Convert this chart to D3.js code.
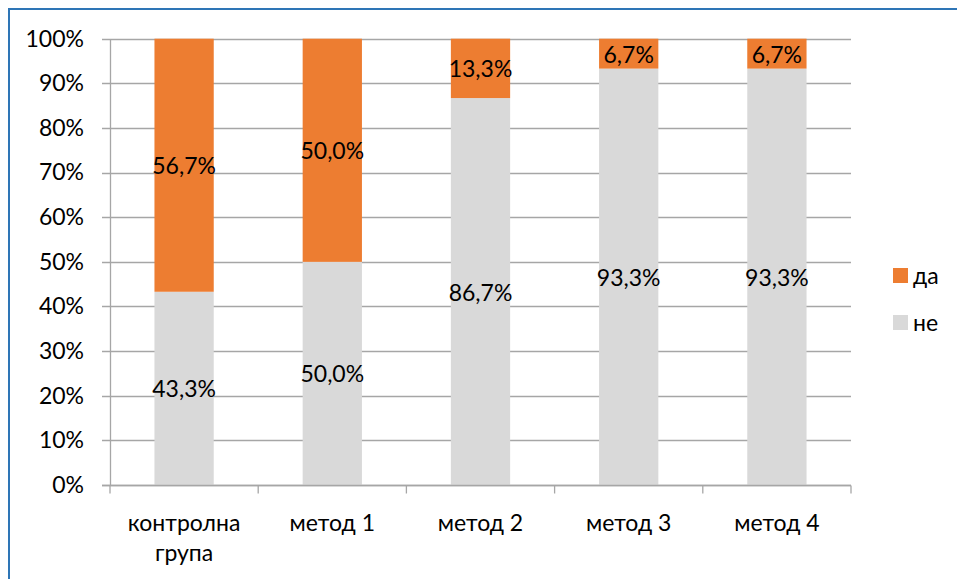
<!DOCTYPE html>
<html>
<head>
<meta charset="utf-8">
<script src="https://cdn.jsdelivr.net/npm/d3@7"></script>
<style>
  html, body { margin: 0; padding: 0; background: #fff; }
  svg { display: block; font-family: Lato, "Liberation Sans", sans-serif; }
</style>
</head>
<body>
<svg id="chart" width="957" height="579"></svg>
<script>
// Categories (x axis), with line breaks for wrapped labels
const categories = ["контролна група", "метод 1", "метод 2", "метод 3", "метод 4"];
const categoryLines = [["контролна", "група"], ["метод 1"], ["метод 2"], ["метод 3"], ["метод 4"]];

// Series shares in percent
const seriesNames = ["не", "да"];
const valuesNe = [43.3, 50.0, 86.7, 93.3, 93.3];
const valuesDa = [56.7, 50.0, 13.3, 6.7, 6.7];

// Y axis ticks
const yTicks = [0, 10, 20, 30, 40, 50, 60, 70, 80, 90, 100];

const colors = { "не": "#d9d9d9", "да": "#ed7d31" };
const FONT = 23;

const svg = d3.select("#chart");
const W = 957, H = 579;

// Chart frame
svg.append("rect")
  .attr("x", 9).attr("y", 9)
  .attr("width", W + 20).attr("height", H + 20)
  .attr("fill", "none")
  .attr("stroke", "#2e75b6")
  .attr("stroke-width", 2);

const plot = { left: 110, right: 851, top: 38.7, bottom: 485 };

const x = d3.scaleBand()
  .domain(categories)
  .range([plot.left, plot.right])
  .paddingInner(0.6)
  .paddingOuter(0.3);

const y = d3.scaleLinear()
  .domain([0, 100])
  .range([plot.bottom, plot.top]);

const fmt = v => v.toFixed(1).replace(".", ",") + "%";

// Gridlines
svg.append("g")
  .selectAll("line")
  .data(yTicks)
  .join("line")
  .attr("x1", plot.left - 8)
  .attr("x2", plot.right)
  .attr("y1", d => Math.round(y(d)) + 0.5)
  .attr("y2", d => Math.round(y(d)) + 0.5)
  .attr("stroke", "#a6a6a6")
  .attr("stroke-width", 1.3);

// Stacked data
const rows = categories.map((c, i) => ({ cat: c, "не": valuesNe[i], "да": valuesDa[i] }));
const stack = d3.stack().keys(seriesNames)(rows);

const layers = svg.append("g")
  .selectAll("g")
  .data(stack)
  .join("g")
  .attr("fill", d => colors[d.key]);

layers.selectAll("rect")
  .data(d => d)
  .join("rect")
  .attr("x", d => x(d.data.cat))
  .attr("width", x.bandwidth())
  .attr("y", d => y(d[1]))
  .attr("height", d => y(d[0]) - y(d[1]));

// Value labels centred in each segment
layers.selectAll("text")
  .data(d => d.map(s => ({ s, key: d.key })))
  .join("text")
  .attr("x", d => x(d.s.data.cat) + x.bandwidth() / 2)
  .attr("y", d => (y(d.s[0]) + y(d.s[1])) / 2)
  .attr("text-anchor", "middle")
  .attr("dominant-baseline", "central")
  .attr("fill", "#000")
  .attr("font-size", FONT)
  .text(d => fmt(d.s.data[d.key]));

// Y axis
const yAxis = svg.append("g")
  .attr("transform", `translate(${plot.left},0)`)
  .call(d3.axisLeft(y).tickValues(yTicks).tickFormat(d => d + "%").tickSize(0).tickPadding(26));
yAxis.select(".domain").attr("stroke", "#a6a6a6").attr("stroke-width", 1.3);
yAxis.selectAll("text").attr("font-size", FONT).attr("fill", "#000").attr("font-family", "Lato, sans-serif");

// X axis baseline and category separators
const xAxis = svg.append("g")
  .attr("transform", `translate(0,${Math.round(plot.bottom) + 0.5})`);
xAxis.append("line")
  .attr("x1", plot.left - 8).attr("x2", plot.right)
  .attr("stroke", "#a6a6a6").attr("stroke-width", 1.3);
const bounds = categories.map(c => x(c) - x.step() * x.paddingOuter())
  .concat([plot.right]);
xAxis.selectAll("line.tick")
  .data(bounds)
  .join("line")
  .attr("class", "tick")
  .attr("x1", d => d).attr("x2", d => d)
  .attr("y1", 0).attr("y2", 8)
  .attr("stroke", "#a6a6a6").attr("stroke-width", 1.3);

// Category labels
const catLabels = svg.append("g")
  .selectAll("text")
  .data(categories)
  .join("text")
  .attr("x", d => x(d) + x.bandwidth() / 2)
  .attr("y", 531)
  .attr("text-anchor", "middle")
  .attr("font-size", FONT)
  .attr("fill", "#000");
catLabels.each(function (d, i) {
  d3.select(this).selectAll("tspan")
    .data(categoryLines[i])
    .join("tspan")
    .attr("x", x(d) + x.bandwidth() / 2)
    .attr("dy", (t, j) => j === 0 ? 0 : 30)
    .text(t => t);
});

// Legend
const legendItems = ["да", "не"];
const legend = svg.append("g")
  .selectAll("g")
  .data(legendItems)
  .join("g")
  .attr("transform", (d, i) => `translate(893,${275 + i * 47})`);
legend.append("rect")
  .attr("x", 0).attr("y", -7)
  .attr("width", 15).attr("height", 15)
  .attr("fill", d => colors[d]);
legend.append("text")
  .attr("x", 20).attr("y", 0)
  .attr("dominant-baseline", "central")
  .attr("font-size", FONT)
  .attr("fill", "#000")
  .text(d => d);
</script>
</body>
</html>
